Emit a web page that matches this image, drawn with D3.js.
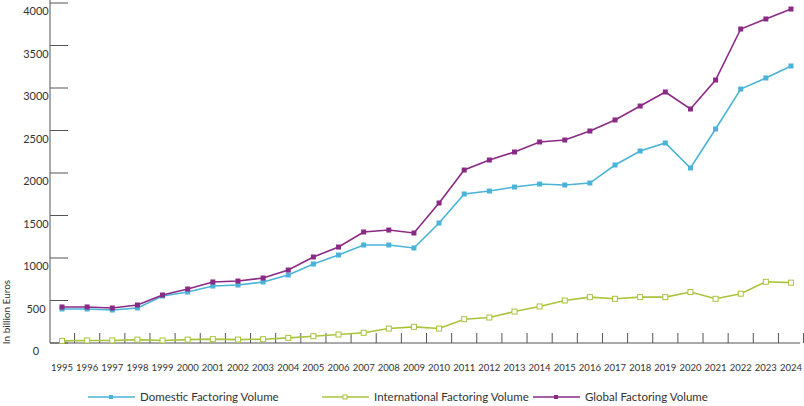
<!DOCTYPE html><html><head><meta charset="utf-8"><script src="https://cdn.jsdelivr.net/npm/d3@7"></script>
<style>body{margin:0;background:#fff}text{font-family:Lato,"Open Sans",sans-serif;fill:#333}</style></head><body><svg id="c" width="804" height="406"></svg><script>
const years=d3.range(1995,2025).map(String);
const domestic=[400,400,388,412,553,600,670,682,718,800,929,1035,1153,1153,1118,1412,1753,1788,1835,1870,1859,1882,2094,2259,2353,2059,2518,2988,3118,3259];
const international=[25,30,30,40,30,40,45,40,45,60,80,100,120,170,190,170,280,300,370,430,500,540,520,540,540,600,520,580,720,710,680].slice(0,30);
const global=[424,424,412,447,565,635,718,729,765,859,1012,1129,1306,1329,1294,1647,2035,2153,2247,2365,2388,2494,2624,2788,2953,2753,3094,3694,3812,3929];
const yTicks=[0,500,1000,1500,2000,2500,3000,3500,4000];
const series=[{name:"Domestic Factoring Volume",v:domestic,c:"#4ab3d8",fill:true},{name:"International Factoring Volume",v:international,c:"#a8c43c",fill:false},{name:"Global Factoring Volume",v:global,c:"#8b2a85",fill:true}];
const svg=d3.select("#c");
const x=d3.scalePoint().domain(years).range([62,791]);
const y=d3.scaleLinear().domain([0,4000]).range([343,3]);
const g=svg.append("g");
g.append("line").attr("x1",50).attr("x2",50).attr("y1",0).attr("y2",343).attr("stroke","#555");
g.append("line").attr("x1",50).attr("x2",800).attr("y1",343).attr("y2",343).attr("stroke","#555");
yTicks.forEach(t=>{g.append("line").attr("x1",50).attr("x2",68).attr("y1",y(t)).attr("y2",y(t)).attr("stroke","#555");
g.append("text").attr("x",36).attr("y",y(t)+12).attr("text-anchor","middle").attr("font-size",11).text(t);});
const step=x.step();
years.forEach((yr,i)=>{g.append("line").attr("x1",x(yr)+step/2).attr("x2",x(yr)+step/2).attr("y1",343).attr("y2",333).attr("stroke","#555");
g.append("text").attr("x",x(yr)).attr("y",371).attr("text-anchor","middle").attr("font-size",9.5).text(yr);});
g.append("text").attr("transform","translate(10,312) rotate(-90)").attr("text-anchor","middle").attr("font-size",10).text("In billion Euros");
series.forEach(s=>{
 svg.append("path").datum(s.v).attr("fill","none").attr("stroke",s.c).attr("stroke-width",1.6).attr("d",d3.line().x((d,i)=>x(years[i])).y(d=>y(d)));
 svg.selectAll(null).data(s.v).enter().append("rect").attr("x",(d,i)=>x(years[i])-2.5).attr("y",d=>y(d)-2.5).attr("width",5).attr("height",5)
  .attr("fill",s.fill?s.c:"#fff").attr("stroke",s.c).attr("stroke-width",s.fill?0:1);
});
const lx=[88,322,533];
series.forEach((s,i)=>{const L=svg.append("g").attr("transform",`translate(${lx[i]},397)`);
 L.append("line").attr("x1",0).attr("x2",47).attr("stroke",s.c).attr("stroke-width",1.6);
 L.append("rect").attr("x",21).attr("y",-2).attr("width",4).attr("height",4).attr("fill",s.fill?s.c:"#fff").attr("stroke",s.c).attr("stroke-width",s.fill?0:1);
 L.append("text").attr("x",52).attr("y",4).attr("font-size",11.5).text(s.name);});
</script></body></html>
